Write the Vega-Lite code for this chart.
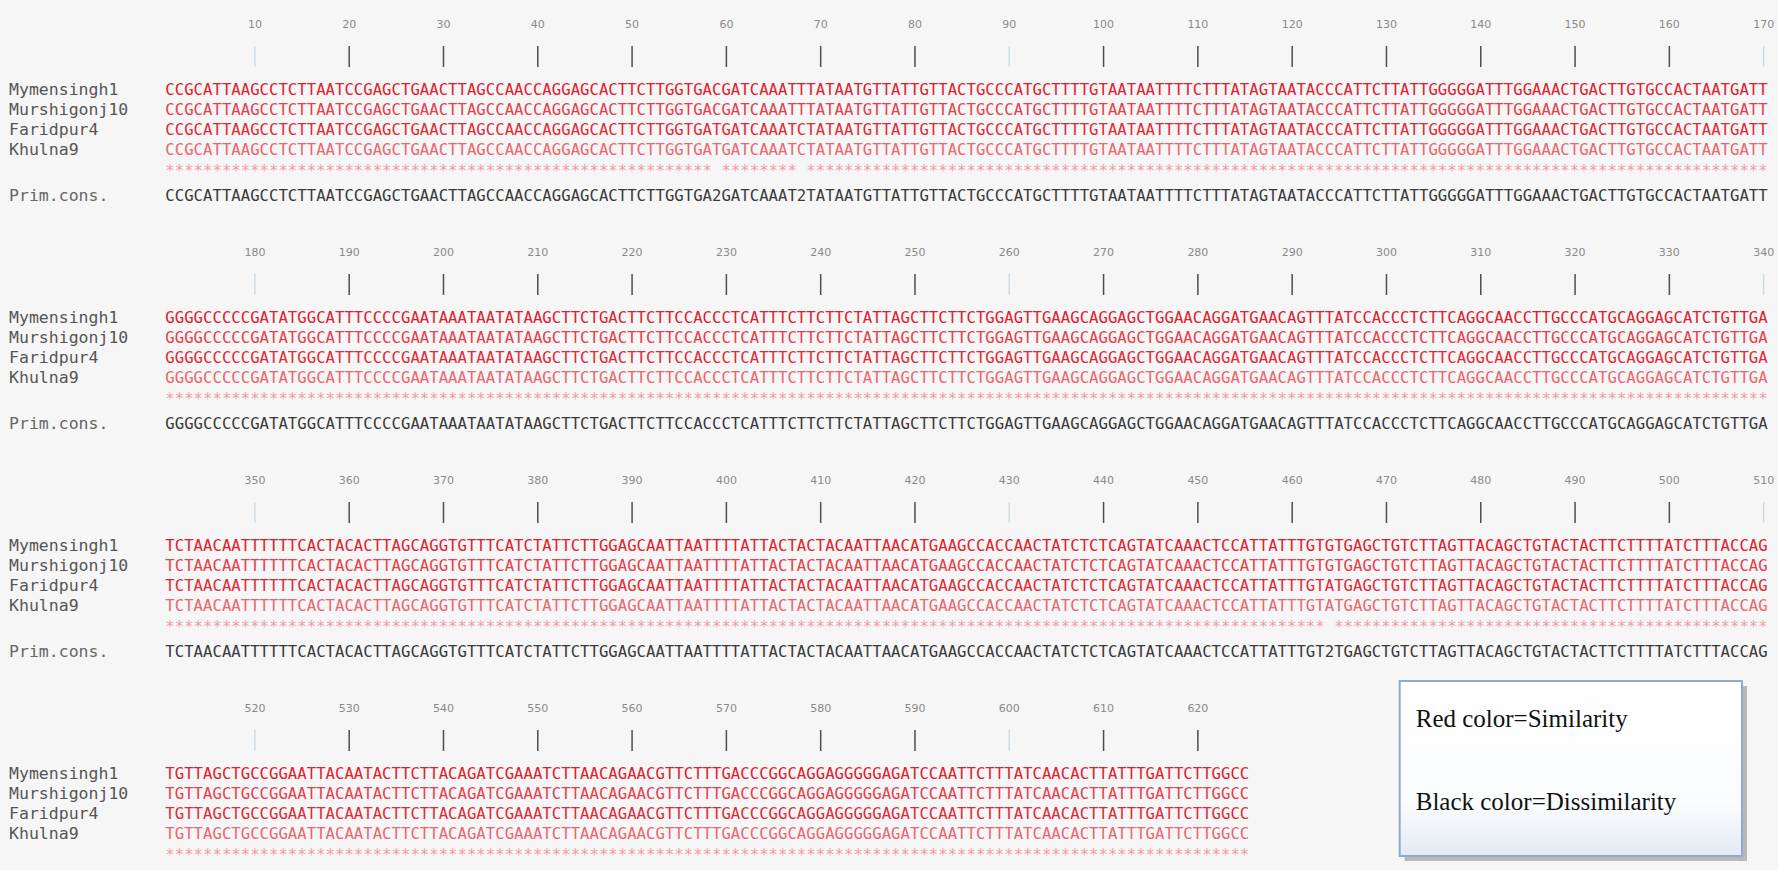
{
  "$schema": "https://vega.github.io/schema/vega-lite/v6.json",
  "width": 1778,
  "height": 870,
  "autosize": {"type": "fit", "contains": "padding"},
  "padding": 0,
  "background": "#f6f6f6",
  "config": {"view": {"stroke": null}},
  "datasets": {
    "seqs": [
      {"block": 1, "name": "Mymensingh1", "seq": "CCGCATTAAGCCTCTTAATCCGAGCTGAACTTAGCCAACCAGGAGCACTTCTTGGTGACGATCAAATTTATAATGTTATTGTTACTGCCCATGCTTTTGTAATAATTTTCTTTATAGTAATACCCATTCTTATTGGGGGATTTGGAAACTGACTTGTGCCACTAATGATT"},
      {"block": 1, "name": "Murshigonj10", "seq": "CCGCATTAAGCCTCTTAATCCGAGCTGAACTTAGCCAACCAGGAGCACTTCTTGGTGACGATCAAATTTATAATGTTATTGTTACTGCCCATGCTTTTGTAATAATTTTCTTTATAGTAATACCCATTCTTATTGGGGGATTTGGAAACTGACTTGTGCCACTAATGATT"},
      {"block": 1, "name": "Faridpur4", "seq": "CCGCATTAAGCCTCTTAATCCGAGCTGAACTTAGCCAACCAGGAGCACTTCTTGGTGATGATCAAATCTATAATGTTATTGTTACTGCCCATGCTTTTGTAATAATTTTCTTTATAGTAATACCCATTCTTATTGGGGGATTTGGAAACTGACTTGTGCCACTAATGATT"},
      {"block": 1, "name": "Khulna9", "seq": "CCGCATTAAGCCTCTTAATCCGAGCTGAACTTAGCCAACCAGGAGCACTTCTTGGTGATGATCAAATCTATAATGTTATTGTTACTGCCCATGCTTTTGTAATAATTTTCTTTATAGTAATACCCATTCTTATTGGGGGATTTGGAAACTGACTTGTGCCACTAATGATT"},
      {"block": 1, "name": "stars", "seq": "********************************************************** ******** ******************************************************************************************************"},
      {"block": 1, "name": "Prim.cons.", "seq": "CCGCATTAAGCCTCTTAATCCGAGCTGAACTTAGCCAACCAGGAGCACTTCTTGGTGA2GATCAAAT2TATAATGTTATTGTTACTGCCCATGCTTTTGTAATAATTTTCTTTATAGTAATACCCATTCTTATTGGGGGATTTGGAAACTGACTTGTGCCACTAATGATT"},
      {"block": 2, "name": "Mymensingh1", "seq": "GGGGCCCCCGATATGGCATTTCCCCGAATAAATAATATAAGCTTCTGACTTCTTCCACCCTCATTTCTTCTTCTATTAGCTTCTTCTGGAGTTGAAGCAGGAGCTGGAACAGGATGAACAGTTTATCCACCCTCTTCAGGCAACCTTGCCCATGCAGGAGCATCTGTTGA"},
      {"block": 2, "name": "Murshigonj10", "seq": "GGGGCCCCCGATATGGCATTTCCCCGAATAAATAATATAAGCTTCTGACTTCTTCCACCCTCATTTCTTCTTCTATTAGCTTCTTCTGGAGTTGAAGCAGGAGCTGGAACAGGATGAACAGTTTATCCACCCTCTTCAGGCAACCTTGCCCATGCAGGAGCATCTGTTGA"},
      {"block": 2, "name": "Faridpur4", "seq": "GGGGCCCCCGATATGGCATTTCCCCGAATAAATAATATAAGCTTCTGACTTCTTCCACCCTCATTTCTTCTTCTATTAGCTTCTTCTGGAGTTGAAGCAGGAGCTGGAACAGGATGAACAGTTTATCCACCCTCTTCAGGCAACCTTGCCCATGCAGGAGCATCTGTTGA"},
      {"block": 2, "name": "Khulna9", "seq": "GGGGCCCCCGATATGGCATTTCCCCGAATAAATAATATAAGCTTCTGACTTCTTCCACCCTCATTTCTTCTTCTATTAGCTTCTTCTGGAGTTGAAGCAGGAGCTGGAACAGGATGAACAGTTTATCCACCCTCTTCAGGCAACCTTGCCCATGCAGGAGCATCTGTTGA"},
      {"block": 2, "name": "stars", "seq": "**************************************************************************************************************************************************************************"},
      {"block": 2, "name": "Prim.cons.", "seq": "GGGGCCCCCGATATGGCATTTCCCCGAATAAATAATATAAGCTTCTGACTTCTTCCACCCTCATTTCTTCTTCTATTAGCTTCTTCTGGAGTTGAAGCAGGAGCTGGAACAGGATGAACAGTTTATCCACCCTCTTCAGGCAACCTTGCCCATGCAGGAGCATCTGTTGA"},
      {"block": 3, "name": "Mymensingh1", "seq": "TCTAACAATTTTTTCACTACACTTAGCAGGTGTTTCATCTATTCTTGGAGCAATTAATTTTATTACTACTACAATTAACATGAAGCCACCAACTATCTCTCAGTATCAAACTCCATTATTTGTGTGAGCTGTCTTAGTTACAGCTGTACTACTTCTTTTATCTTTACCAG"},
      {"block": 3, "name": "Murshigonj10", "seq": "TCTAACAATTTTTTCACTACACTTAGCAGGTGTTTCATCTATTCTTGGAGCAATTAATTTTATTACTACTACAATTAACATGAAGCCACCAACTATCTCTCAGTATCAAACTCCATTATTTGTGTGAGCTGTCTTAGTTACAGCTGTACTACTTCTTTTATCTTTACCAG"},
      {"block": 3, "name": "Faridpur4", "seq": "TCTAACAATTTTTTCACTACACTTAGCAGGTGTTTCATCTATTCTTGGAGCAATTAATTTTATTACTACTACAATTAACATGAAGCCACCAACTATCTCTCAGTATCAAACTCCATTATTTGTATGAGCTGTCTTAGTTACAGCTGTACTACTTCTTTTATCTTTACCAG"},
      {"block": 3, "name": "Khulna9", "seq": "TCTAACAATTTTTTCACTACACTTAGCAGGTGTTTCATCTATTCTTGGAGCAATTAATTTTATTACTACTACAATTAACATGAAGCCACCAACTATCTCTCAGTATCAAACTCCATTATTTGTATGAGCTGTCTTAGTTACAGCTGTACTACTTCTTTTATCTTTACCAG"},
      {"block": 3, "name": "stars", "seq": "*************************************************************************************************************************** **********************************************"},
      {"block": 3, "name": "Prim.cons.", "seq": "TCTAACAATTTTTTCACTACACTTAGCAGGTGTTTCATCTATTCTTGGAGCAATTAATTTTATTACTACTACAATTAACATGAAGCCACCAACTATCTCTCAGTATCAAACTCCATTATTTGT2TGAGCTGTCTTAGTTACAGCTGTACTACTTCTTTTATCTTTACCAG"},
      {"block": 4, "name": "Mymensingh1", "seq": "TGTTAGCTGCCGGAATTACAATACTTCTTACAGATCGAAATCTTAACAGAACGTTCTTTGACCCGGCAGGAGGGGGAGATCCAATTCTTTATCAACACTTATTTGATTCTTGGCC"},
      {"block": 4, "name": "Murshigonj10", "seq": "TGTTAGCTGCCGGAATTACAATACTTCTTACAGATCGAAATCTTAACAGAACGTTCTTTGACCCGGCAGGAGGGGGAGATCCAATTCTTTATCAACACTTATTTGATTCTTGGCC"},
      {"block": 4, "name": "Faridpur4", "seq": "TGTTAGCTGCCGGAATTACAATACTTCTTACAGATCGAAATCTTAACAGAACGTTCTTTGACCCGGCAGGAGGGGGAGATCCAATTCTTTATCAACACTTATTTGATTCTTGGCC"},
      {"block": 4, "name": "Khulna9", "seq": "TGTTAGCTGCCGGAATTACAATACTTCTTACAGATCGAAATCTTAACAGAACGTTCTTTGACCCGGCAGGAGGGGGAGATCCAATTCTTTATCAACACTTATTTGATTCTTGGCC"},
      {"block": 4, "name": "stars", "seq": "*******************************************************************************************************************"}
    ],
    "ticks": [
      {"block": 1, "col": 10, "label": "10"}, {"block": 1, "col": 20, "label": "20"}, {"block": 1, "col": 30, "label": "30"}, {"block": 1, "col": 40, "label": "40"}, {"block": 1, "col": 50, "label": "50"}, {"block": 1, "col": 60, "label": "60"}, {"block": 1, "col": 70, "label": "70"}, {"block": 1, "col": 80, "label": "80"}, {"block": 1, "col": 90, "label": "90"}, {"block": 1, "col": 100, "label": "100"}, {"block": 1, "col": 110, "label": "110"}, {"block": 1, "col": 120, "label": "120"}, {"block": 1, "col": 130, "label": "130"}, {"block": 1, "col": 140, "label": "140"}, {"block": 1, "col": 150, "label": "150"}, {"block": 1, "col": 160, "label": "160"}, {"block": 1, "col": 170, "label": "170"},
      {"block": 2, "col": 10, "label": "180"}, {"block": 2, "col": 20, "label": "190"}, {"block": 2, "col": 30, "label": "200"}, {"block": 2, "col": 40, "label": "210"}, {"block": 2, "col": 50, "label": "220"}, {"block": 2, "col": 60, "label": "230"}, {"block": 2, "col": 70, "label": "240"}, {"block": 2, "col": 80, "label": "250"}, {"block": 2, "col": 90, "label": "260"}, {"block": 2, "col": 100, "label": "270"}, {"block": 2, "col": 110, "label": "280"}, {"block": 2, "col": 120, "label": "290"}, {"block": 2, "col": 130, "label": "300"}, {"block": 2, "col": 140, "label": "310"}, {"block": 2, "col": 150, "label": "320"}, {"block": 2, "col": 160, "label": "330"}, {"block": 2, "col": 170, "label": "340"},
      {"block": 3, "col": 10, "label": "350"}, {"block": 3, "col": 20, "label": "360"}, {"block": 3, "col": 30, "label": "370"}, {"block": 3, "col": 40, "label": "380"}, {"block": 3, "col": 50, "label": "390"}, {"block": 3, "col": 60, "label": "400"}, {"block": 3, "col": 70, "label": "410"}, {"block": 3, "col": 80, "label": "420"}, {"block": 3, "col": 90, "label": "430"}, {"block": 3, "col": 100, "label": "440"}, {"block": 3, "col": 110, "label": "450"}, {"block": 3, "col": 120, "label": "460"}, {"block": 3, "col": 130, "label": "470"}, {"block": 3, "col": 140, "label": "480"}, {"block": 3, "col": 150, "label": "490"}, {"block": 3, "col": 160, "label": "500"}, {"block": 3, "col": 170, "label": "510"},
      {"block": 4, "col": 10, "label": "520"}, {"block": 4, "col": 20, "label": "530"}, {"block": 4, "col": 30, "label": "540"}, {"block": 4, "col": 40, "label": "550"}, {"block": 4, "col": 50, "label": "560"}, {"block": 4, "col": 60, "label": "570"}, {"block": 4, "col": 70, "label": "580"}, {"block": 4, "col": 80, "label": "590"}, {"block": 4, "col": 90, "label": "600"}, {"block": 4, "col": 100, "label": "610"}, {"block": 4, "col": 110, "label": "620"}
    ]
  },
  "layer": [
    {
      "data": {"name": "ticks"},
      "mark": {"type": "rule", "strokeWidth": 1.5, "yOffset": 46, "y2Offset": 67},
      "encoding": {
        "x": {"field": "col", "type": "quantitative", "scale": {"domain": [-17.03, 171.52], "nice": false, "zero": false}, "axis": null},
        "y": {"field": "block", "type": "quantitative", "scale": {"domain": [1, 4.8158], "reverse": true, "nice": false, "zero": false}, "axis": null},
        "y2": {"field": "block"},
        "color": {"condition": {"test": "(datum.col - 10) % 80 === 0", "value": "#cfdde6"}, "value": "#4d4d4d"}
      }
    },
    {
      "data": {"name": "ticks"},
      "mark": {"type": "text", "font": "DejaVu Sans", "fontSize": 11, "color": "#8a8a8a", "align": "center", "baseline": "middle", "yOffset": 25},
      "encoding": {
        "x": {"field": "col", "type": "quantitative", "scale": {"domain": [-17.03, 171.52], "nice": false, "zero": false}, "axis": null},
        "y": {"field": "block", "type": "quantitative", "scale": {"domain": [1, 4.8158], "reverse": true, "nice": false, "zero": false}, "axis": null},
        "text": {"field": "label", "type": "nominal"}
      }
    },
    {
      "data": {"name": "seqs"},
      "transform": [{"filter": "datum.name === 'Mymensingh1'"}],
      "mark": {"type": "text", "font": "DejaVu Sans Mono", "fontSize": 15.66, "color": "#e0202e", "align": "left", "baseline": "middle", "dx": -4.7, "yOffset": 90},
      "encoding": {
        "x": {"datum": 1, "type": "quantitative", "scale": {"domain": [-17.03, 171.52], "nice": false, "zero": false}, "axis": null},
        "y": {"field": "block", "type": "quantitative", "scale": {"domain": [1, 4.8158], "reverse": true, "nice": false, "zero": false}, "axis": null},
        "text": {"field": "seq", "type": "nominal"}
      }
    },
    {
      "data": {"name": "seqs"},
      "transform": [{"filter": "datum.name === 'Murshigonj10'"}],
      "mark": {"type": "text", "font": "DejaVu Sans Mono", "fontSize": 15.66, "color": "#e6404c", "align": "left", "baseline": "middle", "dx": -4.7, "yOffset": 110},
      "encoding": {
        "x": {"datum": 1, "type": "quantitative", "scale": {"domain": [-17.03, 171.52], "nice": false, "zero": false}, "axis": null},
        "y": {"field": "block", "type": "quantitative", "scale": {"domain": [1, 4.8158], "reverse": true, "nice": false, "zero": false}, "axis": null},
        "text": {"field": "seq", "type": "nominal"}
      }
    },
    {
      "data": {"name": "seqs"},
      "transform": [{"filter": "datum.name === 'Faridpur4'"}],
      "mark": {"type": "text", "font": "DejaVu Sans Mono", "fontSize": 15.66, "color": "#e02a36", "align": "left", "baseline": "middle", "dx": -4.7, "yOffset": 130},
      "encoding": {
        "x": {"datum": 1, "type": "quantitative", "scale": {"domain": [-17.03, 171.52], "nice": false, "zero": false}, "axis": null},
        "y": {"field": "block", "type": "quantitative", "scale": {"domain": [1, 4.8158], "reverse": true, "nice": false, "zero": false}, "axis": null},
        "text": {"field": "seq", "type": "nominal"}
      }
    },
    {
      "data": {"name": "seqs"},
      "transform": [{"filter": "datum.name === 'Khulna9'"}],
      "mark": {"type": "text", "font": "DejaVu Sans Mono", "fontSize": 15.66, "color": "#ea6670", "align": "left", "baseline": "middle", "dx": -4.7, "yOffset": 150},
      "encoding": {
        "x": {"datum": 1, "type": "quantitative", "scale": {"domain": [-17.03, 171.52], "nice": false, "zero": false}, "axis": null},
        "y": {"field": "block", "type": "quantitative", "scale": {"domain": [1, 4.8158], "reverse": true, "nice": false, "zero": false}, "axis": null},
        "text": {"field": "seq", "type": "nominal"}
      }
    },
    {
      "data": {"name": "seqs"},
      "transform": [{"filter": "datum.name === 'stars'"}],
      "mark": {"type": "text", "font": "DejaVu Sans Mono", "fontSize": 15.66, "color": "#f29aa6", "align": "left", "baseline": "middle", "dx": -4.7, "yOffset": 171},
      "encoding": {
        "x": {"datum": 1, "type": "quantitative", "scale": {"domain": [-17.03, 171.52], "nice": false, "zero": false}, "axis": null},
        "y": {"field": "block", "type": "quantitative", "scale": {"domain": [1, 4.8158], "reverse": true, "nice": false, "zero": false}, "axis": null},
        "text": {"field": "seq", "type": "nominal"}
      }
    },
    {
      "data": {"name": "seqs"},
      "transform": [{"filter": "datum.name === 'Prim.cons.'"}],
      "mark": {"type": "text", "font": "DejaVu Sans Mono", "fontSize": 15.66, "color": "#3a3a3a", "align": "left", "baseline": "middle", "dx": -4.7, "yOffset": 196},
      "encoding": {
        "x": {"datum": 1, "type": "quantitative", "scale": {"domain": [-17.03, 171.52], "nice": false, "zero": false}, "axis": null},
        "y": {"field": "block", "type": "quantitative", "scale": {"domain": [1, 4.8158], "reverse": true, "nice": false, "zero": false}, "axis": null},
        "text": {"field": "seq", "type": "nominal"}
      }
    },
    {
      "data": {"name": "seqs"},
      "transform": [{"filter": "datum.name === 'Mymensingh1'"}],
      "mark": {"type": "text", "font": "DejaVu Sans Mono", "fontSize": 16.5, "color": "#555555", "align": "left", "baseline": "middle", "yOffset": 90},
      "encoding": {
        "x": {"datum": -16.07, "type": "quantitative", "scale": {"domain": [-17.03, 171.52], "nice": false, "zero": false}, "axis": null},
        "y": {"field": "block", "type": "quantitative", "scale": {"domain": [1, 4.8158], "reverse": true, "nice": false, "zero": false}, "axis": null},
        "text": {"field": "name", "type": "nominal"}
      }
    },
    {
      "data": {"name": "seqs"},
      "transform": [{"filter": "datum.name === 'Murshigonj10'"}],
      "mark": {"type": "text", "font": "DejaVu Sans Mono", "fontSize": 16.5, "color": "#555555", "align": "left", "baseline": "middle", "yOffset": 110},
      "encoding": {
        "x": {"datum": -16.07, "type": "quantitative", "scale": {"domain": [-17.03, 171.52], "nice": false, "zero": false}, "axis": null},
        "y": {"field": "block", "type": "quantitative", "scale": {"domain": [1, 4.8158], "reverse": true, "nice": false, "zero": false}, "axis": null},
        "text": {"field": "name", "type": "nominal"}
      }
    },
    {
      "data": {"name": "seqs"},
      "transform": [{"filter": "datum.name === 'Faridpur4'"}],
      "mark": {"type": "text", "font": "DejaVu Sans Mono", "fontSize": 16.5, "color": "#555555", "align": "left", "baseline": "middle", "yOffset": 130},
      "encoding": {
        "x": {"datum": -16.07, "type": "quantitative", "scale": {"domain": [-17.03, 171.52], "nice": false, "zero": false}, "axis": null},
        "y": {"field": "block", "type": "quantitative", "scale": {"domain": [1, 4.8158], "reverse": true, "nice": false, "zero": false}, "axis": null},
        "text": {"field": "name", "type": "nominal"}
      }
    },
    {
      "data": {"name": "seqs"},
      "transform": [{"filter": "datum.name === 'Khulna9'"}],
      "mark": {"type": "text", "font": "DejaVu Sans Mono", "fontSize": 16.5, "color": "#555555", "align": "left", "baseline": "middle", "yOffset": 150},
      "encoding": {
        "x": {"datum": -16.07, "type": "quantitative", "scale": {"domain": [-17.03, 171.52], "nice": false, "zero": false}, "axis": null},
        "y": {"field": "block", "type": "quantitative", "scale": {"domain": [1, 4.8158], "reverse": true, "nice": false, "zero": false}, "axis": null},
        "text": {"field": "name", "type": "nominal"}
      }
    },
    {
      "data": {"name": "seqs"},
      "transform": [{"filter": "datum.name === 'Prim.cons.'"}],
      "mark": {"type": "text", "font": "DejaVu Sans Mono", "fontSize": 16.5, "color": "#666666", "align": "left", "baseline": "middle", "yOffset": 196},
      "encoding": {
        "x": {"datum": -16.07, "type": "quantitative", "scale": {"domain": [-17.03, 171.52], "nice": false, "zero": false}, "axis": null},
        "y": {"field": "block", "type": "quantitative", "scale": {"domain": [1, 4.8158], "reverse": true, "nice": false, "zero": false}, "axis": null},
        "text": {"field": "name", "type": "nominal"}
      }
    },
    {
      "data": {"values": [{"box": "legend"}]},
      "mark": {"type": "rect", "fill": "#a9a9a9", "opacity": 0.8, "xOffset": 5, "x2Offset": 5, "yOffset": 5, "y2Offset": 5},
      "encoding": {
        "x": {"datum": 131.4, "type": "quantitative", "scale": {"domain": [-17.03, 171.52], "nice": false, "zero": false}, "axis": null},
        "x2": {"datum": 167.7},
        "y": {"datum": 3.987, "type": "quantitative", "scale": {"domain": [1, 4.8158], "reverse": true, "nice": false, "zero": false}, "axis": null},
        "y2": {"datum": 4.754}
      }
    },
    {
      "data": {"values": [{"box": "legend"}]},
      "mark": {"type": "rect", "stroke": "#8eaad2", "strokeWidth": 2, "fill": {"gradient": "linear", "x1": 0, "y1": 0, "x2": 0, "y2": 1, "stops": [{"offset": 0, "color": "#ffffff"}, {"offset": 0.7, "color": "#fbfcfe"}, {"offset": 1, "color": "#e3eaf4"}]}},
      "encoding": {
        "x": {"datum": 131.4, "type": "quantitative", "scale": {"domain": [-17.03, 171.52], "nice": false, "zero": false}, "axis": null},
        "x2": {"datum": 167.7},
        "y": {"datum": 3.987, "type": "quantitative", "scale": {"domain": [1, 4.8158], "reverse": true, "nice": false, "zero": false}, "axis": null},
        "y2": {"datum": 4.754}
      }
    },
    {
      "data": {"values": [{"note": "Red color=Similarity"}]},
      "mark": {"type": "text", "font": "Liberation Serif", "fontSize": 25, "color": "#111111", "align": "left", "baseline": "middle", "yOffset": 35},
      "encoding": {
        "x": {"datum": 133.1, "type": "quantitative", "scale": {"domain": [-17.03, 171.52], "nice": false, "zero": false}, "axis": null},
        "y": {"datum": 4, "type": "quantitative", "scale": {"domain": [1, 4.8158], "reverse": true, "nice": false, "zero": false}, "axis": null},
        "text": {"field": "note", "type": "nominal"}
      }
    },
    {
      "data": {"values": [{"note": "Black color=Dissimilarity"}]},
      "mark": {"type": "text", "font": "Liberation Serif", "fontSize": 25, "color": "#111111", "align": "left", "baseline": "middle", "yOffset": 118},
      "encoding": {
        "x": {"datum": 133.1, "type": "quantitative", "scale": {"domain": [-17.03, 171.52], "nice": false, "zero": false}, "axis": null},
        "y": {"datum": 4, "type": "quantitative", "scale": {"domain": [1, 4.8158], "reverse": true, "nice": false, "zero": false}, "axis": null},
        "text": {"field": "note", "type": "nominal"}
      }
    }
  ]
}
